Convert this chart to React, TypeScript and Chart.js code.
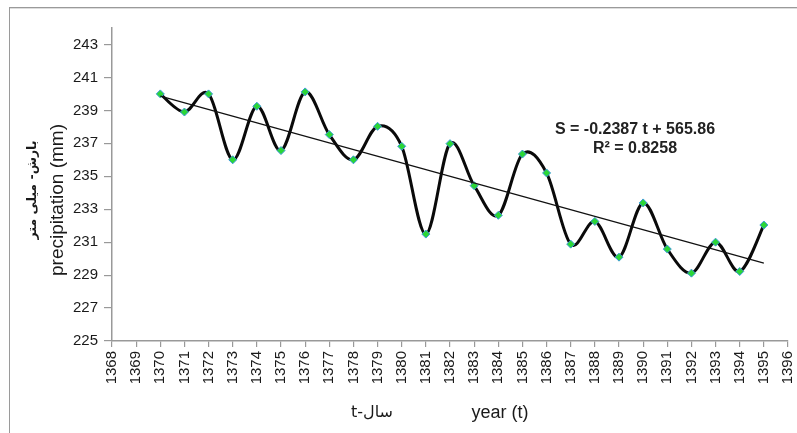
import React, { useEffect, useRef } from 'react';
import { Chart, registerables } from 'chart.js';

Chart.register(...registerables);

// ---- data ----
const years = [1370, 1371, 1372, 1373, 1374, 1375, 1376, 1377, 1378, 1379, 1380, 1381, 1382,
  1383, 1384, 1385, 1386, 1387, 1388, 1389, 1390, 1391, 1392, 1393, 1394, 1395];
const precipitation = [240.0, 238.9, 240.0, 236.0, 239.25, 236.56, 240.12, 237.53, 236.0, 238.03,
  236.82, 231.49, 236.98, 234.43, 232.63, 236.35, 235.2, 230.88, 232.26, 230.09, 233.38, 230.58,
  229.12, 231.0, 229.22, 232.04];
const trendYears = [1370, 1395];
const trendValues = [239.86, 229.73];
const yTicks = [225, 227, 229, 231, 233, 235, 237, 239, 241, 243];
const xRange = [1368, 1396];
const yRange = [225, 244];
const equationLines = ['S = -0.2387 t + 565.86', 'R² = 0.8258'];
const yTitleFa = 'بارش- میلی متر';
const yTitleEn = 'precipitation (mm)';
const xTitleFa = 't-سال';
const xTitleEn = 'year (t)';

const W = 797;
const H = 433;
const AXIS = '#999999';
const TICK_FONT = { family: 'Liberation Sans, Arial, sans-serif', size: 15 };

// Excel-like smoothed line (Catmull-Rom through the points placed by Chart.js)
const smoothPlugin = {
  id: 'smoothLine',
  beforeDatasetDraw(chart: any, args: any) {
    if (args.index !== 1) return;
    const pts = chart.getDatasetMeta(1).data.map((p: any) => ({ x: p.x, y: p.y }));
    if (pts.length < 2) return;
    const ctx = chart.ctx;
    ctx.save();
    ctx.strokeStyle = '#0a0a0a';
    ctx.lineWidth = 3;
    ctx.lineJoin = 'round';
    ctx.lineCap = 'round';
    ctx.beginPath();
    ctx.moveTo(pts[0].x, pts[0].y);
    for (let i = 0; i < pts.length - 1; i++) {
      const p0 = pts[i - 1] || pts[i];
      const p1 = pts[i];
      const p2 = pts[i + 1];
      const p3 = pts[i + 2] || p2;
      const c1x = p1.x + (p2.x - p0.x) / 6;
      const c1y = p1.y + (p2.y - p0.y) / 6;
      const c2x = p2.x - (p3.x - p1.x) / 6;
      const c2y = p2.y - (p3.y - p1.y) / 6;
      ctx.bezierCurveTo(c1x, c1y, c2x, c2y, p2.x, p2.y);
    }
    ctx.stroke();
    ctx.restore();
  },
};

const decorPlugin = {
  id: 'decor',
  beforeDraw(chart: any) {
    const ctx = chart.ctx;
    ctx.save();
    ctx.fillStyle = '#ffffff';
    ctx.fillRect(0, 0, W, H);
    ctx.fillStyle = '#9a9a9a';
    ctx.fillRect(9, 7, W - 9, 1);
    ctx.fillRect(9, 7, 1, H - 7);
    ctx.fillStyle = '#dddddd';
    ctx.fillRect(10, 8, W - 10, 1);
    ctx.restore();
  },
  afterDraw(chart: any) {
    const ctx = chart.ctx;
    ctx.save();
    ctx.fillStyle = '#1a1a1a';
    ctx.textAlign = 'center';
    ctx.textBaseline = 'middle';

    // y titles (rotated)
    ctx.save();
    ctx.translate(33, 190);
    ctx.rotate(-Math.PI / 2);
    ctx.font = 'bold 12.5px "DejaVu Sans", sans-serif';
    ctx.fillText(yTitleFa, 0, 0);
    ctx.restore();

    ctx.save();
    ctx.translate(58, 200);
    ctx.rotate(-Math.PI / 2);
    ctx.font = '19px "Liberation Sans", Arial, sans-serif';
    ctx.fillText(yTitleEn, 0, 0);
    ctx.restore();

    // x titles
    ctx.font = '16px "DejaVu Sans", sans-serif';
    ctx.fillText(xTitleFa, 372, 413);
    ctx.font = '18px "Liberation Sans", Arial, sans-serif';
    ctx.fillText(xTitleEn, 500, 413);

    // trend equation
    ctx.font = 'bold 16px "Liberation Sans", Arial, sans-serif';
    ctx.fillStyle = '#222222';
    ctx.fillText(equationLines[0], 635, 130);
    ctx.fillText(equationLines[1], 635, 149);
    ctx.restore();
  },
};

export default function App() {
  const ref = useRef<HTMLCanvasElement | null>(null);

  useEffect(() => {
    if (!ref.current) return;
    const chart = new Chart(ref.current, {
      type: 'line',
      data: {
        datasets: [
          {
            label: 'trend',
            data: trendYears.map((x, i) => ({ x, y: trendValues[i] })),
            borderColor: '#111111',
            borderWidth: 1.2,
            pointRadius: 0,
            tension: 0,
            order: 1,
          },
          {
            label: 'precipitation',
            data: years.map((x, i) => ({ x, y: precipitation[i] })),
            showLine: false,
            borderColor: '#0a0a0a',
            borderWidth: 3,
            tension: 0,
            pointStyle: 'rectRot',
            pointRadius: 4,
            pointBackgroundColor: '#2bd636',
            pointBorderColor: '#3a9ad8',
            pointBorderWidth: 1,
            order: 2,
          },
        ],
      },
      options: {
        responsive: false,
        animation: false,
        layout: { padding: { top: 28, right: 9, left: 0, bottom: 0 } },
        plugins: {
          legend: { display: false },
          tooltip: { enabled: false },
        },
        scales: {
          x: {
            type: 'linear',
            min: xRange[0],
            max: xRange[1],
            ticks: {
              stepSize: 1,
              autoSkip: false,
              minRotation: 90,
              maxRotation: 90,
              padding: 4,
              color: '#1a1a1a',
              font: TICK_FONT,
              callback: (v: any) => String(v),
            },
            grid: { drawOnChartArea: false, tickLength: 6, color: AXIS, lineWidth: 1.2 },
            border: { color: AXIS, width: 1.5 },
            afterFit: (s: any) => {
              s.height = 92;
              s.paddingLeft = 0;
              s.paddingRight = 0;
            },
          },
          y: {
            min: yRange[0],
            max: yRange[1],
            afterBuildTicks: (s: any) => {
              s.ticks = yTicks.map((v) => ({ value: v }));
            },
            ticks: {
              padding: 6,
              color: '#1a1a1a',
              font: TICK_FONT,
              callback: (v: any) => String(v),
            },
            grid: { drawOnChartArea: false, tickLength: 8, color: AXIS, lineWidth: 1.2 },
            border: { color: AXIS, width: 1.5 },
            afterFit: (s: any) => {
              s.width = 112;
              s.paddingTop = 0;
              s.paddingBottom = 0;
            },
          },
        },
      },
      plugins: [decorPlugin, smoothPlugin],
    });
    return () => chart.destroy();
  }, []);

  return (
    <div style={{ position: 'fixed', left: 0, top: 0, width: W, height: H, background: '#fff' }}>
      <canvas ref={ref} width={W} height={H} style={{ display: 'block', width: W, height: H }} />
    </div>
  );
}
